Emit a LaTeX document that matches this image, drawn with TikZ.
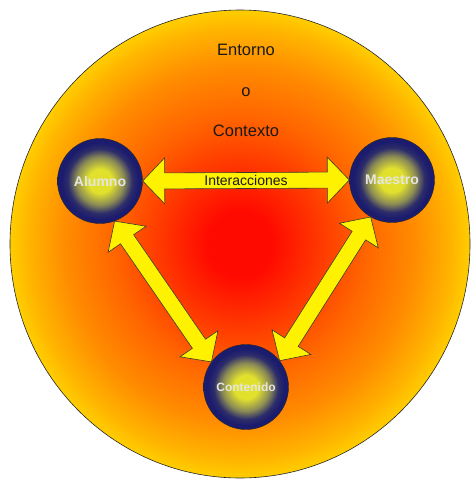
\documentclass[tikz,border=0pt]{standalone}
\usepackage{fontspec}
\setmainfont{Liberation Sans}
\usetikzlibrary{calc}

\definecolor{envred}{RGB}{255,10,0}
\definecolor{envredorange}{RGB}{255,50,0}
\definecolor{envorange}{RGB}{255,100,0}
\definecolor{envdeep}{RGB}{255,140,0}
\definecolor{envamber}{RGB}{255,180,0}
\definecolor{envyellow}{RGB}{255,225,0}
\definecolor{envpale}{RGB}{255,240,0}
\definecolor{sphlight}{RGB}{225,225,45}
\definecolor{sphmid}{RGB}{140,140,85}
\definecolor{sphnavy}{RGB}{28,28,110}

\pgfdeclareradialshading{entorno}{\pgfpointorigin}{color(0bp)=(envred); color(3.5bp)=(envred); color(8bp)=(envredorange); color(13.5bp)=(envorange); color(19bp)=(envdeep); color(23bp)=(envamber); color(26.5bp)=(envyellow); color(30bp)=(envpale); color(50bp)=(envpale)}
\pgfdeclareradialshading{esfera}{\pgfpointorigin}{color(0bp)=(sphlight); color(7bp)=(sphlight); color(14bp)=(sphmid); color(19bp)=(sphnavy!85!sphmid); color(22.5bp)=(sphnavy); color(50bp)=(sphnavy)}

% flecha de bloque con dos puntas entre dos puntos
\newcommand{\flechadoble}[2]{%
  \draw[flecha] (#1) -- ($(#1)!22pt!(#2)!23pt!90:(#2)$) -- ($(#1)!22pt!(#2)!8pt!90:(#2)$)
    -- ($(#2)!22pt!(#1)!8pt!-90:(#1)$) -- ($(#2)!22pt!(#1)!23pt!-90:(#1)$) -- (#2)
    -- ($(#2)!22pt!(#1)!23pt!90:(#1)$) -- ($(#2)!22pt!(#1)!8pt!90:(#1)$)
    -- ($(#1)!22pt!(#2)!8pt!-90:(#2)$) -- ($(#1)!22pt!(#2)!23pt!-90:(#2)$) -- cycle;}

\begin{document}
\begin{tikzpicture}[x=1pt,y=-1pt,
    esf/.style={circle,minimum size=85pt,inner sep=0pt,draw=black!85,shade,shading=esfera,
      text=black!10,font=\bfseries\fontsize{14}{16}\selectfont},
    flecha/.style={draw=black!75!olive,fill=yellow,line width=0.6pt,line join=miter},
    rotulo/.style={text=black!90,font=\fontsize{16.5}{18}\selectfont}]
  \useasboundingbox (0,0) rectangle (472,479);
  \shadedraw[shading=entorno,draw=black!85,line width=0.6pt] (240,244) ellipse [x radius=230pt,y radius=234pt];
  \node[rotulo] (entorno) at (246,50) {Entorno};
  \node[rotulo] (o) at (246,92) {o};
  \node[rotulo] (contexto) at (246,131) {Contexto};
  \node[esf] (alumno) at (100,181) {Alumno};
  \node[esf] (maestro) at (392,180) {Maestro};
  \node[esf,font=\bfseries\fontsize{12}{14}\selectfont] (contenido) at (246,387) {Contenido};
  \flechadoble{alumno.east}{maestro.west}
  \flechadoble{alumno.-70}{contenido.144}
  \flechadoble{maestro.-120}{contenido.38}
  \node[text=black!90,font=\fontsize{14}{16}\selectfont] (inter) at ($(alumno)!0.5!(maestro)$) {Interacciones};
\end{tikzpicture}
\end{document}
